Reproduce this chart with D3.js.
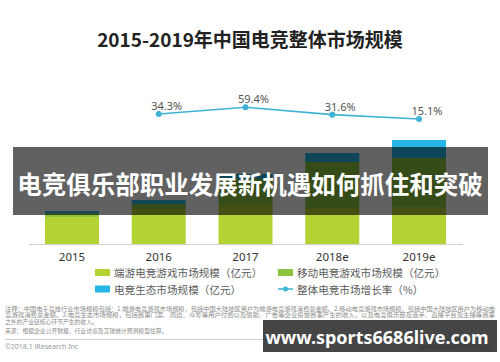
<!DOCTYPE html>
<html>
<head>
<meta charset="utf-8">
<script src="https://cdn.jsdelivr.net/npm/d3@7"></script>
<style>
  body { margin: 0; background: #fff; }
  svg { display: block; font-family: "Noto Sans CJK SC", "Noto Sans", sans-serif; }
</style>
</head>
<body>
<div id="chart"></div>
<script>
// chart data (亿元 / %)
var years = ["2015", "2016", "2017", "2018e", "2019e"];
var pcGame = [255, 331, 370, 341, 350];      // 端游电竞游戏市场规模
var mobileGame = [36, 47, 246, 436, 465];    // 移动电竞游戏市场规模
var ecosystem = [20, 38, 47, 85, 170];       // 电竞生态市场规模
var growthYears = ["2016", "2017", "2018e", "2019e"];
var growthRate = [34.3, 59.4, 31.6, 15.1];   // 整体电竞市场增长率

var seriesKeys = ["pc", "mobile", "eco"];
var colors = { pc: "#b3d234", mobile: "#8cc43f", eco: "#27b5e5" };
var lineColor = "#3fb3d6";

var svgWidth = 500, svgHeight = 362;

var svg = d3.select("#chart").append("svg")
  .attr("width", svgWidth)
  .attr("height", svgHeight);

// title
svg.append("text")
  .attr("x", 250).attr("y", 38)
  .attr("text-anchor", "middle")
  .attr("dominant-baseline", "central")
  .style("font-size", "19px").style("font-weight", "bold")
  .attr("fill", "#222")
  .text("2015-2019年中国电竞整体市场规模");

// scales
var x = d3.scaleBand()
  .domain(years)
  .range([28.6, 462.4])
  .paddingInner(0.378)
  .paddingOuter(0.189);

var y = d3.scaleLinear().domain([0, 1000]).range([244, 138.4]);
var yRate = d3.scaleLinear().domain([0, 100]).range([123, 96.6]);

// stacked bars
var table = years.map(function(yr, i) {
  return { year: yr, pc: pcGame[i], mobile: mobileGame[i], eco: ecosystem[i] };
});
var stacked = d3.stack().keys(seriesKeys)(table);

svg.append("g").selectAll("g")
  .data(stacked)
  .enter().append("g")
  .attr("fill", d => colors[d.key])
  .selectAll("rect")
  .data(d => d)
  .enter().append("rect")
  .attr("x", d => x(d.data.year))
  .attr("width", x.bandwidth())
  .attr("y", d => y(d[1]))
  .attr("height", d => y(d[0]) - y(d[1]));

// x axis
var xAxis = svg.append("g")
  .attr("transform", "translate(0,244)")
  .call(d3.axisBottom(x).tickSize(0).tickPadding(9));
xAxis.select(".domain").attr("stroke", "#cfcfcf").attr("stroke-width", 1.2);
xAxis.selectAll("text")
  .style("font-size", "11.5px")
  .style("font-family", "'Noto Sans', sans-serif")
  .style("font-weight", "normal")
  .attr("fill", "#333");

// growth line
var rateData = growthYears.map((yr, i) => ({ year: yr, v: growthRate[i] }));
var cx = d => x(d.year) + x.bandwidth() / 2;

svg.append("path")
  .datum(rateData)
  .attr("fill", "none")
  .attr("stroke", lineColor)
  .attr("stroke-width", 1.6)
  .attr("d", d3.line().x(cx).y(d => yRate(d.v)));

svg.selectAll(".dot")
  .data(rateData)
  .enter().append("circle")
  .attr("cx", cx)
  .attr("cy", d => yRate(d.v))
  .attr("r", 3)
  .attr("fill", lineColor);

svg.selectAll(".rateLabel")
  .data(rateData)
  .enter().append("text")
  .attr("x", d => cx(d) + 8)
  .attr("y", d => yRate(d.v) - 4)
  .attr("text-anchor", "middle")
  .style("font-family", "'Noto Sans', sans-serif")
  .style("font-size", "11px")
  .attr("fill", "#555")
  .text(d => d.v.toFixed(1) + "%");

// legend
var legendItems = [
  { label: "端游电竞游戏市场规模（亿元）", color: colors.pc, x: 95, y: 272.5, type: "box" },
  { label: "移动电竞游戏市场规模（亿元）", color: colors.mobile, x: 278, y: 272.5, type: "box" },
  { label: "电竞生态市场规模（亿元）", color: colors.eco, x: 95, y: 289, type: "box" },
  { label: "整体电竞市场增长率（%）", color: lineColor, x: 278, y: 289, type: "line" }
];
var legend = svg.append("g").selectAll("g")
  .data(legendItems)
  .enter().append("g")
  .attr("transform", d => `translate(${d.x},${d.y})`);
legend.filter(d => d.type === "box").append("rect")
  .attr("x", 0).attr("y", -3.5)
  .attr("width", 15).attr("height", 7)
  .attr("fill", d => d.color);
legend.filter(d => d.type === "line").append("line")
  .attr("x1", 0).attr("x2", 15)
  .attr("stroke", d => d.color).attr("stroke-width", 1.6);
legend.filter(d => d.type === "line").append("circle")
  .attr("cx", 7.5).attr("r", 2.5)
  .attr("fill", d => d.color);
legend.append("text")
  .attr("x", 19)
  .attr("dominant-baseline", "central")
  .style("font-size", "10.6px")
  .attr("fill", "#5a5a5a")
  .text(d => d.label);

// notes
var notes = [
  "注释：中国电子竞技行业市场规模包括：1.端游电竞游戏市场规模，包括中国大陆地区用户为端游电竞游戏消费总金额。2.移动电竞游戏市场规模，包括中国大陆地区用户为移动电",
  "竞游戏消费总金额。3.电竞生态市场规模，包括赛事门票、周边、众筹等用户付费以及赞助、广告等企业投放赛事产生的收入，以及电竞俱乐部及选手、直播平台及主播等赛事",
  "之外的产业链核心环节产生的收入。",
  "来源：根据企业公开财报、行业访谈及艾瑞统计预测模型估算。"
];
var noteY = [310.5, 317, 324, 332.5];
svg.append("g").selectAll("text")
  .data(notes)
  .enter().append("text")
  .attr("x", 5)
  .attr("y", (d, i) => noteY[i])
  .attr("textLength", (d, i) => i < 2 ? 490 : null)
  .attr("lengthAdjust", "spacingAndGlyphs")
  .style("font-size", "5.8px")
  .attr("fill", "#8a8a8a")
  .text(d => d);

svg.append("line")
  .attr("x1", 5).attr("x2", 495)
  .attr("y1", 339.5).attr("y2", 339.5)
  .attr("stroke", "#cccccc").attr("stroke-width", 1);

svg.append("text")
  .attr("x", 5).attr("y", 346)
  .attr("dominant-baseline", "central")
  .style("font-family", "'Noto Sans', sans-serif")
  .style("font-size", "7px")
  .attr("fill", "#9a9a9a")
  .text("©2018.1 iResearch Inc");

svg.append("text")
  .attr("x", 493).attr("y", 346)
  .attr("text-anchor", "end")
  .attr("dominant-baseline", "central")
  .style("font-family", "'Noto Sans', sans-serif")
  .style("font-size", "7px")
  .attr("fill", "#9a9a9a")
  .text("www.iresearch.com.cn");

// headline banner over the chart
svg.append("rect")
  .attr("x", 13).attr("y", 147)
  .attr("width", 475).attr("height", 68)
  .attr("fill", "#000").attr("fill-opacity", 0.62);
svg.append("text")
  .attr("x", 250).attr("y", 183)
  .attr("text-anchor", "middle")
  .attr("dominant-baseline", "central")
  .style("font-size", "24.5px").style("font-weight", "bold")
  .attr("fill", "#fff")
  .text("电竞俱乐部职业发展新机遇如何抓住和突破");

// site watermark
svg.append("rect")
  .attr("x", 263).attr("y", 320)
  .attr("width", 234).attr("height", 32)
  .attr("fill", "#2b2b2b").attr("fill-opacity", 0.88);
svg.append("text")
  .attr("x", 377).attr("y", 337)
  .attr("text-anchor", "middle")
  .attr("dominant-baseline", "central")
  .style("font-family", "'Noto Sans', sans-serif")
  .style("font-size", "18px").style("font-weight", "bold")
  .attr("fill", "#fff")
  .text("www.sports6686live.com");
</script>
</body>
</html>
